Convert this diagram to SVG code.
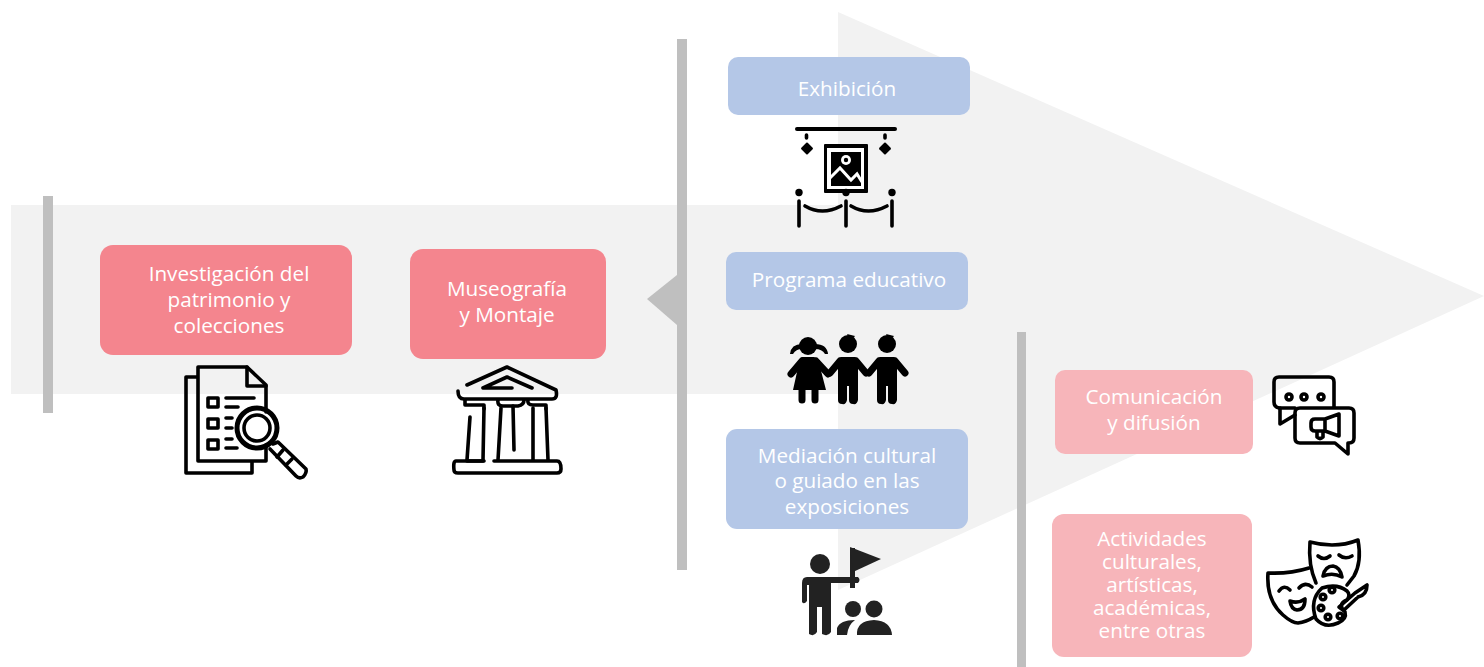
<svg xmlns="http://www.w3.org/2000/svg" width="1484" height="667" viewBox="0 0 1484 667">
<style>
.t{font-family:"Open Sans","Noto Sans","Liberation Sans",sans-serif;font-size:20.7px;fill:#fff;text-anchor:middle}
.bar{fill:#bfbfbf}
.bg{fill:#f2f2f2}
.red{fill:#f4858e}
.pink{fill:#f7b5ba}
.blue{fill:#b4c7e7}
.i{fill:none;stroke:#000;stroke-width:3.6;stroke-linecap:round;stroke-linejoin:round}
.i2{fill:none;stroke:#000;stroke-width:5;stroke-linecap:round;stroke-linejoin:round}
.a{fill:none;stroke:#000;stroke-width:7;stroke-linecap:round;stroke-linejoin:round}
.da{fill:none;stroke:#222;stroke-width:6;stroke-linecap:round;stroke-linejoin:round}
.f{fill:#000;stroke:none}
.d{fill:#222;stroke:none}
</style>
<g id="background">
<rect class="bg" x="11" y="205" width="828" height="189"/>
<polygon class="bg" points="838,12 1484,296 838,590"/>
<rect class="bar" x="43" y="196" width="10" height="217"/>
<rect class="bar" x="677" y="39" width="10" height="531"/>
<polygon class="bar" points="647,299 677,275 677,325"/>
<rect class="bar" x="1017" y="332" width="9" height="335"/>
</g>
<g id="node-investigacion">
<rect class="red" x="100" y="245" width="252" height="110" rx="13"/>
<text class="t" x="229" y="281">Investigación del</text>
<text class="t" x="229" y="307">patrimonio y</text>
<text class="t" x="229" y="333">colecciones</text>
</g>
<g id="node-museografia">
<rect class="red" x="410" y="249" width="196" height="110" rx="13"/>
<text class="t" x="507" y="296">Museografía</text>
<text class="t" x="507" y="322">y Montaje</text>
</g>
<g id="node-exhibicion">
<rect class="blue" x="728" y="57" width="242" height="58" rx="10"/>
<text class="t" x="847" y="96">Exhibición</text>
</g>
<g id="node-programa">
<rect class="blue" x="726" y="252" width="242" height="58" rx="10"/>
<text class="t" x="849" y="287">Programa educativo</text>
</g>
<g id="node-mediacion">
<rect class="blue" x="726" y="429" width="242" height="100" rx="11"/>
<text class="t" x="847" y="463">Mediación cultural</text>
<text class="t" x="847" y="488">o guiado en las</text>
<text class="t" x="847" y="514">exposiciones</text>
</g>
<g id="node-comunicacion">
<rect class="pink" x="1055" y="370" width="198" height="84" rx="10"/>
<text class="t" x="1154" y="404">Comunicación</text>
<text class="t" x="1154" y="430">y difusión</text>
</g>
<g id="node-actividades">
<rect class="pink" x="1052" y="514" width="200" height="143" rx="12"/>
<text class="t" x="1152" y="546">Actividades</text>
<text class="t" x="1152" y="569">culturales,</text>
<text class="t" x="1152" y="592">artísticas,</text>
<text class="t" x="1152" y="615">académicas,</text>
<text class="t" x="1152" y="638">entre otras</text>
</g>
<g id="icon-document">
<path class="i" d="M197,377H186V473H252V462"/>
<path class="i" d="M198,461V367H247L266,385V412M266,445V461H198"/>
<path class="i" d="M247,367V386H266"/>
<rect class="i" x="208" y="398" width="10" height="9"/>
<rect class="i" x="208" y="419" width="10" height="9"/>
<rect class="i" x="208" y="440" width="10" height="9"/>
<path class="i" d="M226,398H254M226,407H238M226,418H232M226,428H232M226,439H232M226,448H237"/>
<circle class="i2" cx="257" cy="428" r="20"/>
<circle class="i" cx="257" cy="428" r="13"/>
<path class="i" d="M273,444L278,442L306,469Q307,473 303,477Q299,479 296,476L270,449"/>
<path class="i" d="M283,450L277,457M292,459L286,465"/>
</g>
<g id="icon-museum">
<path class="i" d="M467,385L507,367L556,390Q558,399 552,399H464Q458,399 458,391"/>
<path class="i" d="M483,388L507,377L532,388M483,388H512"/>
<path class="i" d="M465,400V405H484V409M498,400Q497,406 503,406H518Q524,405 524,400M528,400Q527,405 533,405H546V409"/>
<path class="i" d="M470,417L467,460M484,408L483,460M501,408L498,460M533,408V460M546,408L548,460"/>
<path class="i" d="M513,406L514,450"/>
<path class="i" d="M483,461H456Q453,461 454,470Q454,473 458,473H557Q561,473 561,469Q561,461 557,461H494"/>
<path class="i" d="M467,461H484"/>
</g>
<g id="icon-exhibition">
<path class="i2" style="stroke-width:4" d="M797,129H895"/>
<path class="i" d="M806.500,135V138M885,135V138"/>
<rect class="f" x="802.500" y="144" width="9" height="9" rx="1" transform="rotate(45 807 148.500)"/>
<rect class="f" x="880.500" y="144" width="9" height="9" rx="1" transform="rotate(45 885 148.500)"/>
<rect class="f" x="824" y="144" width="44" height="49" rx="1"/>
<rect x="827" y="148" width="37" height="41" fill="#fff"/>
<rect class="f" x="831" y="152" width="30" height="34"/>
<circle cx="846" cy="160" r="5" fill="#fff"/>
<circle cx="846" cy="160" r="2.200" fill="#000"/>
<path d="M830,178L840,168L851,180L857,174L862,182" fill="none" stroke="#fff" stroke-width="3"/>
<circle class="f" cx="799" cy="192.500" r="3.700"/>
<circle class="f" cx="846" cy="192.500" r="3.700"/>
<circle class="f" cx="892" cy="192.500" r="3.700"/>
<path class="i" d="M799,201V226M846,201V226M892,201V226"/>
<path class="i" d="M805,206Q822,216 841,206M851,206Q868,216 887,206"/>
</g>
<g id="icon-children">
<circle class="f" cx="808" cy="346" r="9"/>
<path class="f" d="M790,354Q791,344 802,344L802,349Q796,349 793,354ZM828,354Q827,344 815,344L815,349Q822,349 825,354Z"/>
<path class="a" d="M802,361L791,374M816,361L828,374"/>
<path class="f" d="M802,357H814Q818,358 819,363L826,390H793L799,363Q800,358 802,357Z"/>
<path class="a" d="M802,390V400M815,390V400"/>
<circle class="f" cx="848" cy="344" r="9"/>
<path class="f" d="M847,334L855,336L851,341Z"/>
<path class="f" d="M841,357H855Q858,358 858,362V400Q857,405 853,404Q849,404 849,400V386H847V400Q846,405 842,404Q838,404 838,400V362Q838,358 841,357Z"/>
<path class="a" d="M840,361L830,373M856,361L866,373"/>
<circle class="f" cx="887" cy="344" r="9"/>
<path class="f" d="M886,334L894,336L890,341Z"/>
<path class="f" d="M880,357H894Q897,358 897,362V400Q896,405 892,404Q888,404 888,400V386H886V400Q885,405 881,404Q877,404 877,400V362Q877,358 880,357Z"/>
<path class="a" d="M879,361L869,373M895,361L905,373"/>
</g>
<g id="icon-guide">
<circle class="d" cx="820" cy="564" r="10"/>
<path class="d" d="M807,577H858Q861,580 858,583H831V632Q828,637 822,634V607H817V632Q814,637 809,634V585H807V601Q804,605 802,602V583Q802,577 807,577Z"/>
<rect class="d" x="850" y="548" width="5" height="40"/>
<polygon class="d" points="850,547 881,559 853,572"/>
<circle class="d" cx="853" cy="609" r="8"/>
<circle class="d" cx="874" cy="609" r="8.500"/>
<path class="d" d="M837,635V628Q840,620 855,620Q848,625 847,635Z"/>
<path class="d" d="M857,635Q856,621 874,620Q891,621 892,635Z"/>
</g>
<g id="icon-communication">
<path class="i" d="M1295,408H1279V408Q1274,407 1274,402V382Q1274,377 1279,377H1329Q1334,377 1334,382V407"/>
<path class="i" d="M1280,408V424L1295,415"/>
<path class="i" d="M1300,408H1349Q1354,408 1354,413V438Q1354,443 1349,443H1348V454L1335,443H1300Q1295,443 1295,438V413Q1295,408 1300,408Z"/>
<circle class="i" cx="1289" cy="397" r="3"/>
<circle class="i" cx="1304" cy="397" r="3"/>
<circle class="i" cx="1321" cy="397" r="3"/>
<path class="i" d="M1339,414V436L1325,431H1315Q1311,431 1311,427V423Q1311,419 1315,419H1325ZM1325,419V431M1317,431V437Q1320,440 1323,437V432"/>
</g>
<g id="icon-masks">
<path class="i" d="M1310,542Q1336,549 1358,540Q1362,562 1354,576L1347,585M1310,542Q1308,565 1316,583"/>
<path class="i" d="M1268,573Q1290,574 1309,568M1268,573Q1266,600 1283,615Q1292,623 1298,623Q1306,622 1314,617"/>
<path class="i" d="M1318,556Q1324,561 1330,556M1339,555Q1345,560 1352,556"/>
<path class="i" d="M1323,576Q1325,566 1333,566Q1340,567 1342,577Q1333,572 1323,576Z"/>
<path class="i" d="M1279,591Q1284,584 1290,590M1299,588Q1305,581 1312,587"/>
<path class="i" d="M1290,601Q1298,604 1305,599Q1305,610 1297,610Q1291,609 1290,601Z"/>
<path class="i" d="M1322,588Q1337,583 1347,591Q1351,595 1347,600Q1337,604 1345,612Q1347,619 1338,623Q1325,629 1316,619Q1309,600 1322,588Z"/>
<circle class="i" cx="1332" cy="590" r="2.800"/>
<circle class="i" cx="1323" cy="597" r="2.800"/>
<circle class="i" cx="1321" cy="608" r="2.800"/>
<circle class="i" cx="1328" cy="617" r="2.800"/>
<circle class="i" cx="1340" cy="616" r="2.800"/>
<path class="i" d="M1339,607L1355,593M1344,610L1358,597M1355,593L1367,585Q1367,595 1358,597M1339,607Q1344,611 1344,610"/>
</g>
</svg>
